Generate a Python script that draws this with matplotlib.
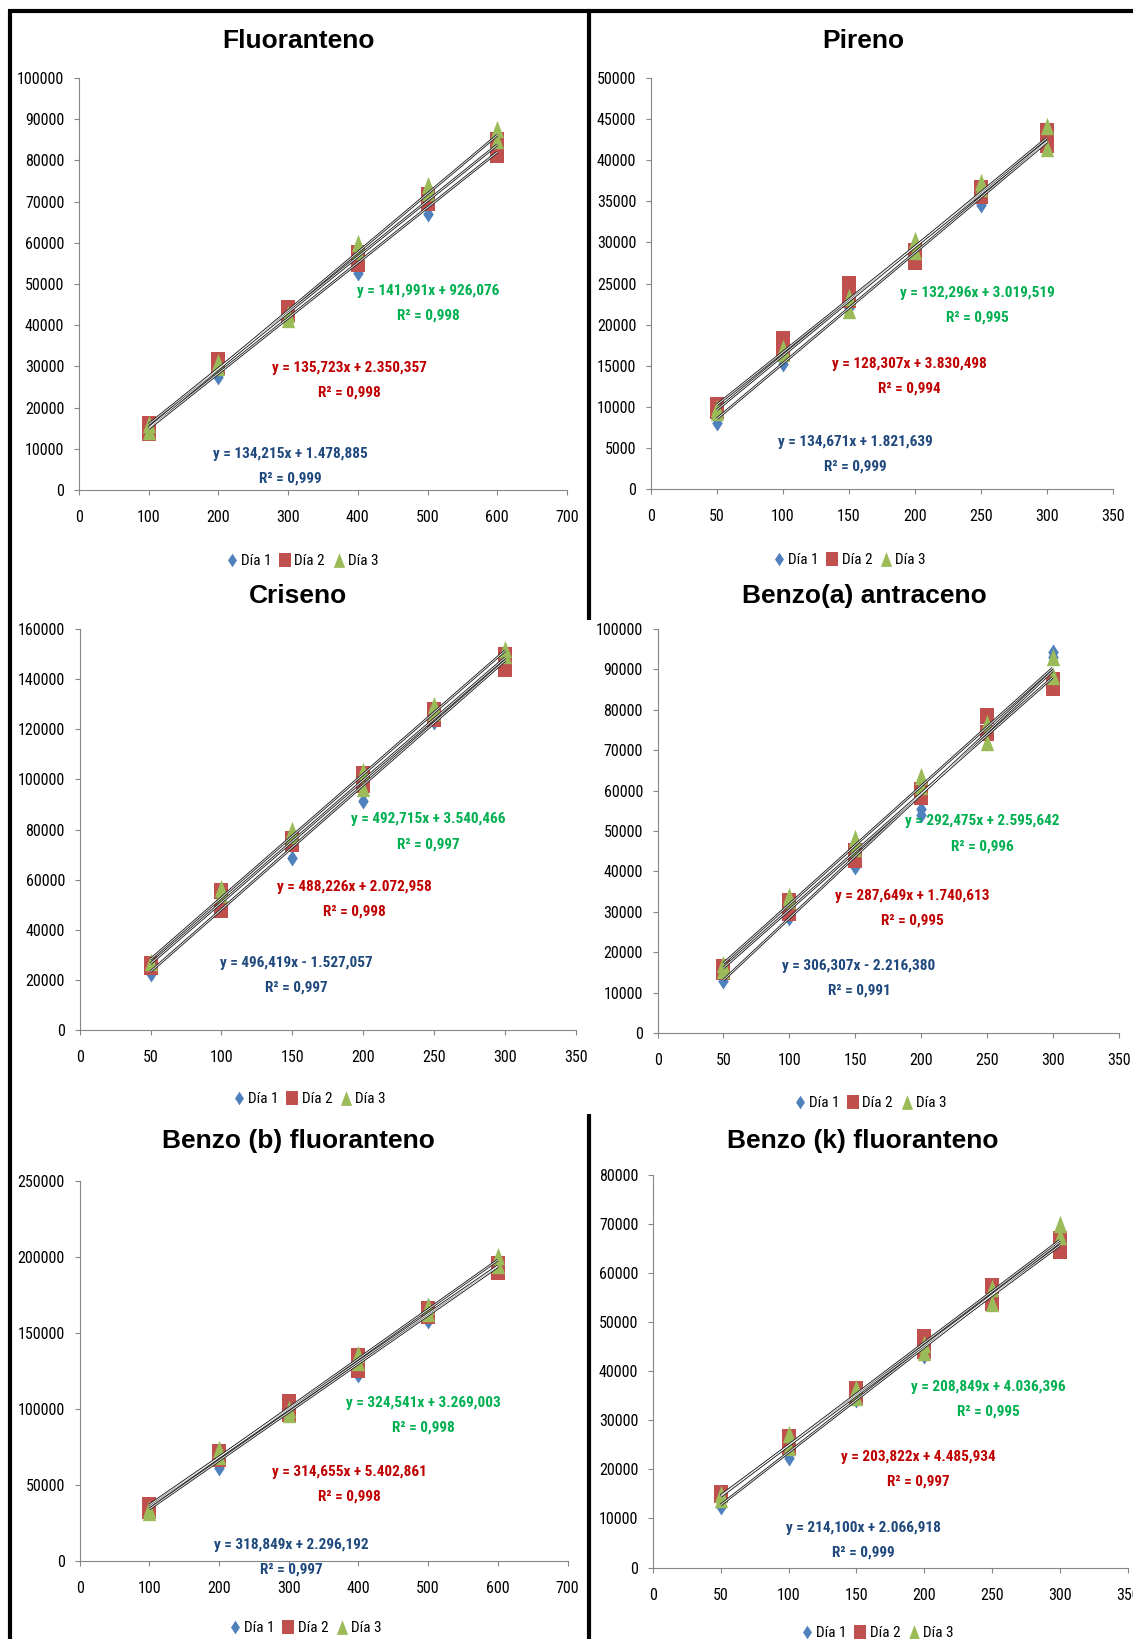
import matplotlib
matplotlib.use('Agg')
import matplotlib.pyplot as plt
from matplotlib import font_manager as fm
from matplotlib.lines import Line2D
import numpy as np

# fuente estrecha (tipo Calibri/Arial Narrow) si existe
names = {f.name for f in fm.fontManager.ttflist}
narrow = None
for n in ['Liberation Sans Narrow', 'Arial Narrow', 'Roboto Condensed', 'Open Sans Condensed',
          'DejaVu Sans Condensed', 'Noto Sans Condensed', 'Noto Sans SemiCondensed']:
    if n in names:
        narrow = n
        break
stretch = 'normal'
if narrow is None:
    cond = [f for f in fm.fontManager.ttflist
            if str(f.stretch) in ('condensed', 'semi-condensed', 'extra-condensed')]
    if cond:
        narrow = cond[0].name
        stretch = 'condensed'
    else:
        narrow = 'Roboto'
plt.rcParams['font.family'] = [narrow, 'DejaVu Sans']
plt.rcParams['font.stretch'] = stretch

# ---- datos (x = concentración, y = área, réplicas por punto) ----
fluo_x = [100, 200, 300, 400, 500, 600]
fluo_d1 = [[14800], [27500], [41800], [52600], [67100], [82000]]
fluo_d2 = [[15900, 13900], [31500, 29900], [44200, 42600], [57600, 54800], [71500, 69700], [85000, 81200]]
fluo_d3 = [[16000, 14200], [31000, 29800], [42700, 41600], [60000, 58000], [74000, 72300], [87600, 85000]]
fluo_fit = [(134.215, 1478.885), (135.723, 2350.357), (141.991, 926.076)]
fluo_eq = ["y = 134,215x + 1.478,885", "y = 135,723x + 2.350,357", "y = 141,991x + 926,076"]
fluo_r2 = ["R² = 0,999", "R² = 0,998", "R² = 0,998"]

pir_x = [50, 100, 150, 200, 250, 300]
pir_d1 = [[8000], [15200], [22000], [28800], [34600], [42200]]
pir_d2 = [[10200, 9500], [18200, 16500], [24900, 23000], [28900, 27600], [36600, 35600], [43600, 41900]]
pir_d3 = [[9800, 9400], [17200, 16600], [23300, 21800], [30300, 28900], [37300, 36600], [44200, 41500]]
pir_fit = [(134.671, 1821.639), (128.307, 3830.498), (132.296, 3019.519)]
pir_eq = ["y = 134,671x + 1.821,639", "y = 128,307x + 3.830,498", "y = 132,296x + 3.019,519"]
pir_r2 = ["R² = 0,999", "R² = 0,994", "R² = 0,995"]

cri_x = [50, 100, 150, 200, 250, 300]
cri_d1 = [[22300], [49000], [68600], [91400], [123000], [149000]]
cri_d2 = [[26300, 25200], [55400, 48000], [76400, 74300], [102300, 97800], [127700, 124100], [149800, 144100]]
cri_d3 = [[27300], [56800, 54400], [80000, 77900], [103500, 96400], [129800, 127000], [151900, 149800]]
cri_fit = [(496.419, -1527.057), (488.226, 2072.958), (492.715, 3540.466)]
cri_eq = ["y = 496,419x - 1.527,057", "y = 488,226x + 2.072,958", "y = 492,715x + 3.540,466"]
cri_r2 = ["R² = 0,997", "R² = 0,998", "R² = 0,997"]

baa_x = [50, 100, 150, 200, 250, 300]
baa_d1 = [[12900], [28400], [41000], [55500, 54000], [73500], [94300, 93000]]
baa_d2 = [[16300, 15000], [32700, 29700], [45000, 42700], [60200, 58500], [78500, 74300], [87500, 85300]]
baa_d3 = [[17000, 15500], [33900, 32900], [48300, 45700], [63600, 61100], [76800, 72100], [93000, 88300]]
baa_fit = [(306.307, -2216.380), (287.649, 1740.613), (292.475, 2595.642)]
baa_eq = ["y = 306,307x - 2.216,380", "y = 287,649x + 1.740,613", "y = 292,475x + 2.595,642"]
baa_r2 = ["R² = 0,991", "R² = 0,995", "R² = 0,996"]

bbf_x = [100, 200, 300, 400, 500, 600]
bbf_d1 = [[34200], [61500], [97900], [122500], [168000, 158000], [193600]]
bbf_d2 = [[36600, 33200], [71700, 67100], [104900, 96500], [135000, 125900], [165500, 161000], [195300, 189900]]
bbf_d3 = [[34400, 32100], [73900, 69400], [100000, 97000], [136000, 131000], [168000, 163000], [200500, 194800]]
bbf_fit = [(318.849, 2296.192), (314.655, 5402.861), (324.541, 3269.003)]
bbf_eq = ["y = 318,849x + 2.296,192", "y = 314,655x + 5.402,861", "y = 324,541x + 3.269,003"]
bbf_r2 = ["R² = 0,997", "R² = 0,998", "R² = 0,998"]

bkf_x = [50, 100, 150, 200, 250, 300]
bkf_d1 = [[12300], [22400], [34200], [43100], [55600], [66300]]
bkf_d2 = [[15100, 14700], [26600, 24500], [36400, 34700], [46900, 44100], [57400, 53900], [66900, 64600]]
bkf_d3 = [[15000, 14000], [27300, 24500], [36500, 34700], [45500, 44000], [57000, 54000], [70000, 67600]]
bkf_fit = [(214.100, 2066.918), (203.822, 4485.934), (208.849, 4036.396)]
bkf_eq = ["y = 214,100x + 2.066,918", "y = 203,822x + 4.485,934", "y = 208,849x + 4.036,396"]
bkf_r2 = ["R² = 0,999", "R² = 0,997", "R² = 0,995"]

titles = ["Fluoranteno", "Pireno", "Criseno", "Benzo(a) antraceno",
          "Benzo (b) fluoranteno", "Benzo (k) fluoranteno"]
series = ["Día 1", "Día 2", "Día 3"]

# ---- estilo ----
W, H = 1133, 1639
mcol = ['#4F81BD', '#C0504D', '#9BBB59']
tcol = ['#1F497D', '#C00000', '#00B050']
diamond = [(0, 0.5), (0.33, 0), (0, -0.5), (-0.33, 0), (0, 0.5)]
square = [(-0.43, -0.5), (0.43, -0.5), (0.43, 0.5), (-0.43, 0.5), (-0.43, -0.5)]
triangle = [(-0.38, -0.5), (0.38, -0.5), (0, 0.5), (-0.38, -0.5)]
markers = [diamond, square, triangle]
msize = [11.5, 12, 12.5]
grey = '#868686'


def fx(px):
    return px / W


def fy(py):
    return 1 - py / H


# layout: caja de ejes en px (izq, der, arriba, abajo), escalas, título, leyenda, textos
panels = [
    dict(x=fluo_x, d=[fluo_d1, fluo_d2, fluo_d3], fit=fluo_fit, eq=fluo_eq, r2=fluo_r2,
         box=(79, 567, 78, 490), xlim=(700, 100), ylim=(100000, 10000),
         tpos=(298, 41), lpos=(303, 561),
         txt=[(290.6, 453.6), (349, 368), (428.6, 290.6)]),
    dict(x=pir_x, d=[pir_d1, pir_d2, pir_d3], fit=pir_fit, eq=pir_eq, r2=pir_r2,
         box=(651, 1113, 78, 489), xlim=(350, 50), ylim=(50000, 5000),
         tpos=(863, 41), lpos=(850, 560),
         txt=[(855, 442), (909, 363.7), (977, 292.7)]),
    dict(x=cri_x, d=[cri_d1, cri_d2, cri_d3], fit=cri_fit, eq=cri_eq, r2=cri_r2,
         box=(79.6, 576, 629, 1030), xlim=(350, 50), ylim=(160000, 20000),
         tpos=(298, 596), lpos=(310, 1099),
         txt=[(296.8, 962.6), (354, 887), (428.5, 819.4)]),
    dict(x=baa_x, d=[baa_d1, baa_d2, baa_d3], fit=baa_fit, eq=baa_eq, r2=baa_r2,
         box=(657.6, 1118.6, 629, 1033), xlim=(350, 50), ylim=(100000, 10000),
         tpos=(864, 596.5), lpos=(871, 1103),
         txt=[(859, 965.8), (912.4, 895.7), (982.5, 821.5)]),
    dict(x=bbf_x, d=[bbf_d1, bbf_d2, bbf_d3], fit=bbf_fit, eq=bbf_eq, r2=bbf_r2,
         box=(79.6, 567.5, 1181, 1561), xlim=(700, 100), ylim=(250000, 50000),
         tpos=(298.5, 1141), lpos=(306, 1628),
         txt=[(291.6, 1544.8), (349, 1471.6), (423, 1402.7)]),
    dict(x=bkf_x, d=[bkf_d1, bkf_d2, bkf_d3], fit=bkf_fit, eq=bkf_eq, r2=bkf_r2,
         box=(653, 1127.6, 1175, 1567.5), xlim=(350, 50), ylim=(80000, 10000),
         tpos=(863, 1141), lpos=(878, 1633),
         txt=[(863.3, 1528), (918.7, 1457), (988.7, 1387)]),
]

fig = plt.figure(figsize=(W / 100, H / 100), dpi=100)

for title, p in zip(titles, panels):
    l, r, t, b = p['box']
    ax = fig.add_axes([fx(l), fy(b), (r - l) / W, (b - t) / H])
    ax.patch.set_visible(False)
    for s in ['top', 'right']:
        ax.spines[s].set_visible(False)
    for s in ['left', 'bottom']:
        ax.spines[s].set_color(grey)
        ax.spines[s].set_linewidth(0.8)
    xmax, xstep = p['xlim']
    ymax, ystep = p['ylim']
    ax.set_xlim(0, xmax)
    ax.set_ylim(0, ymax)
    xt = np.arange(0, xmax + 1, xstep)
    yt = np.arange(0, ymax + 1, ystep)
    ax.set_xticks(xt)
    ax.set_xticklabels([str(int(v)) for v in xt])
    ax.set_yticks(yt)
    ax.set_yticklabels([str(int(v)) for v in yt])
    ax.tick_params(direction='out', length=3.6, width=0.8, color=grey, labelsize=11.5)
    ax.tick_params(axis='x', pad=11)
    ax.tick_params(axis='y', pad=7)

    # puntos
    for k in range(3):
        for xi, ys in zip(p['x'], p['d'][k]):
            ax.plot([xi] * len(ys), ys, linestyle='none', marker=markers[k],
                    ms=msize[k], mfc=mcol[k], mec=mcol[k], mew=0, zorder=2 + k * 0.1)
    # líneas de tendencia
    x0, x1 = min(p['x']), max(p['x'])
    for m, c in p['fit']:
        ax.plot([x0, x1], [m * x0 + c, m * x1 + c], color='#222222', lw=1.9, zorder=4,
                solid_capstyle='butt')
    for m, c in p['fit']:
        ax.plot([x0, x1], [m * x0 + c, m * x1 + c], color='white', lw=0.6, zorder=5,
                solid_capstyle='butt')

    fig.text(fx(p['tpos'][0]), fy(p['tpos'][1]), title, ha='center', va='center',
             fontsize=19, fontweight='bold', family=['Liberation Sans', 'DejaVu Sans'],
             stretch='normal')

    for k in range(3):
        tx, ty = p['txt'][k]
        fig.text(fx(tx), fy(ty), p['eq'][k], ha='center', va='center', fontsize=11,
                 fontweight='bold', color=tcol[k])
        fig.text(fx(tx), fy(ty + 25), p['r2'][k], ha='center', va='center', fontsize=11,
                 fontweight='bold', color=tcol[k])

    handles = [Line2D([], [], linestyle='none', marker=markers[k], ms=msize[k] * 0.85,
                      mfc=mcol[k], mec=mcol[k], mew=0) for k in range(3)]
    ax.legend(handles, series, loc='center', bbox_to_anchor=(fx(p['lpos'][0]), fy(p['lpos'][1])),
              bbox_transform=fig.transFigure, ncol=3, frameon=False, fontsize=11,
              handlelength=0.6, handletextpad=0.3, columnspacing=0.6, borderpad=0)

# marcos negros
frame = dict(color='black', lw=3.0, solid_capstyle='butt')
fig.add_artist(Line2D([fx(8), fx(W)], [fy(11), fy(11)], **frame))
fig.add_artist(Line2D([fx(9.5), fx(9.5)], [fy(9.5), fy(H)], **frame))
fig.add_artist(Line2D([fx(589), fx(589)], [fy(11), fy(620)], **frame))
fig.add_artist(Line2D([fx(589), fx(589)], [fy(1114), fy(H)], **frame))

fig.savefig('out.png', dpi=100)
